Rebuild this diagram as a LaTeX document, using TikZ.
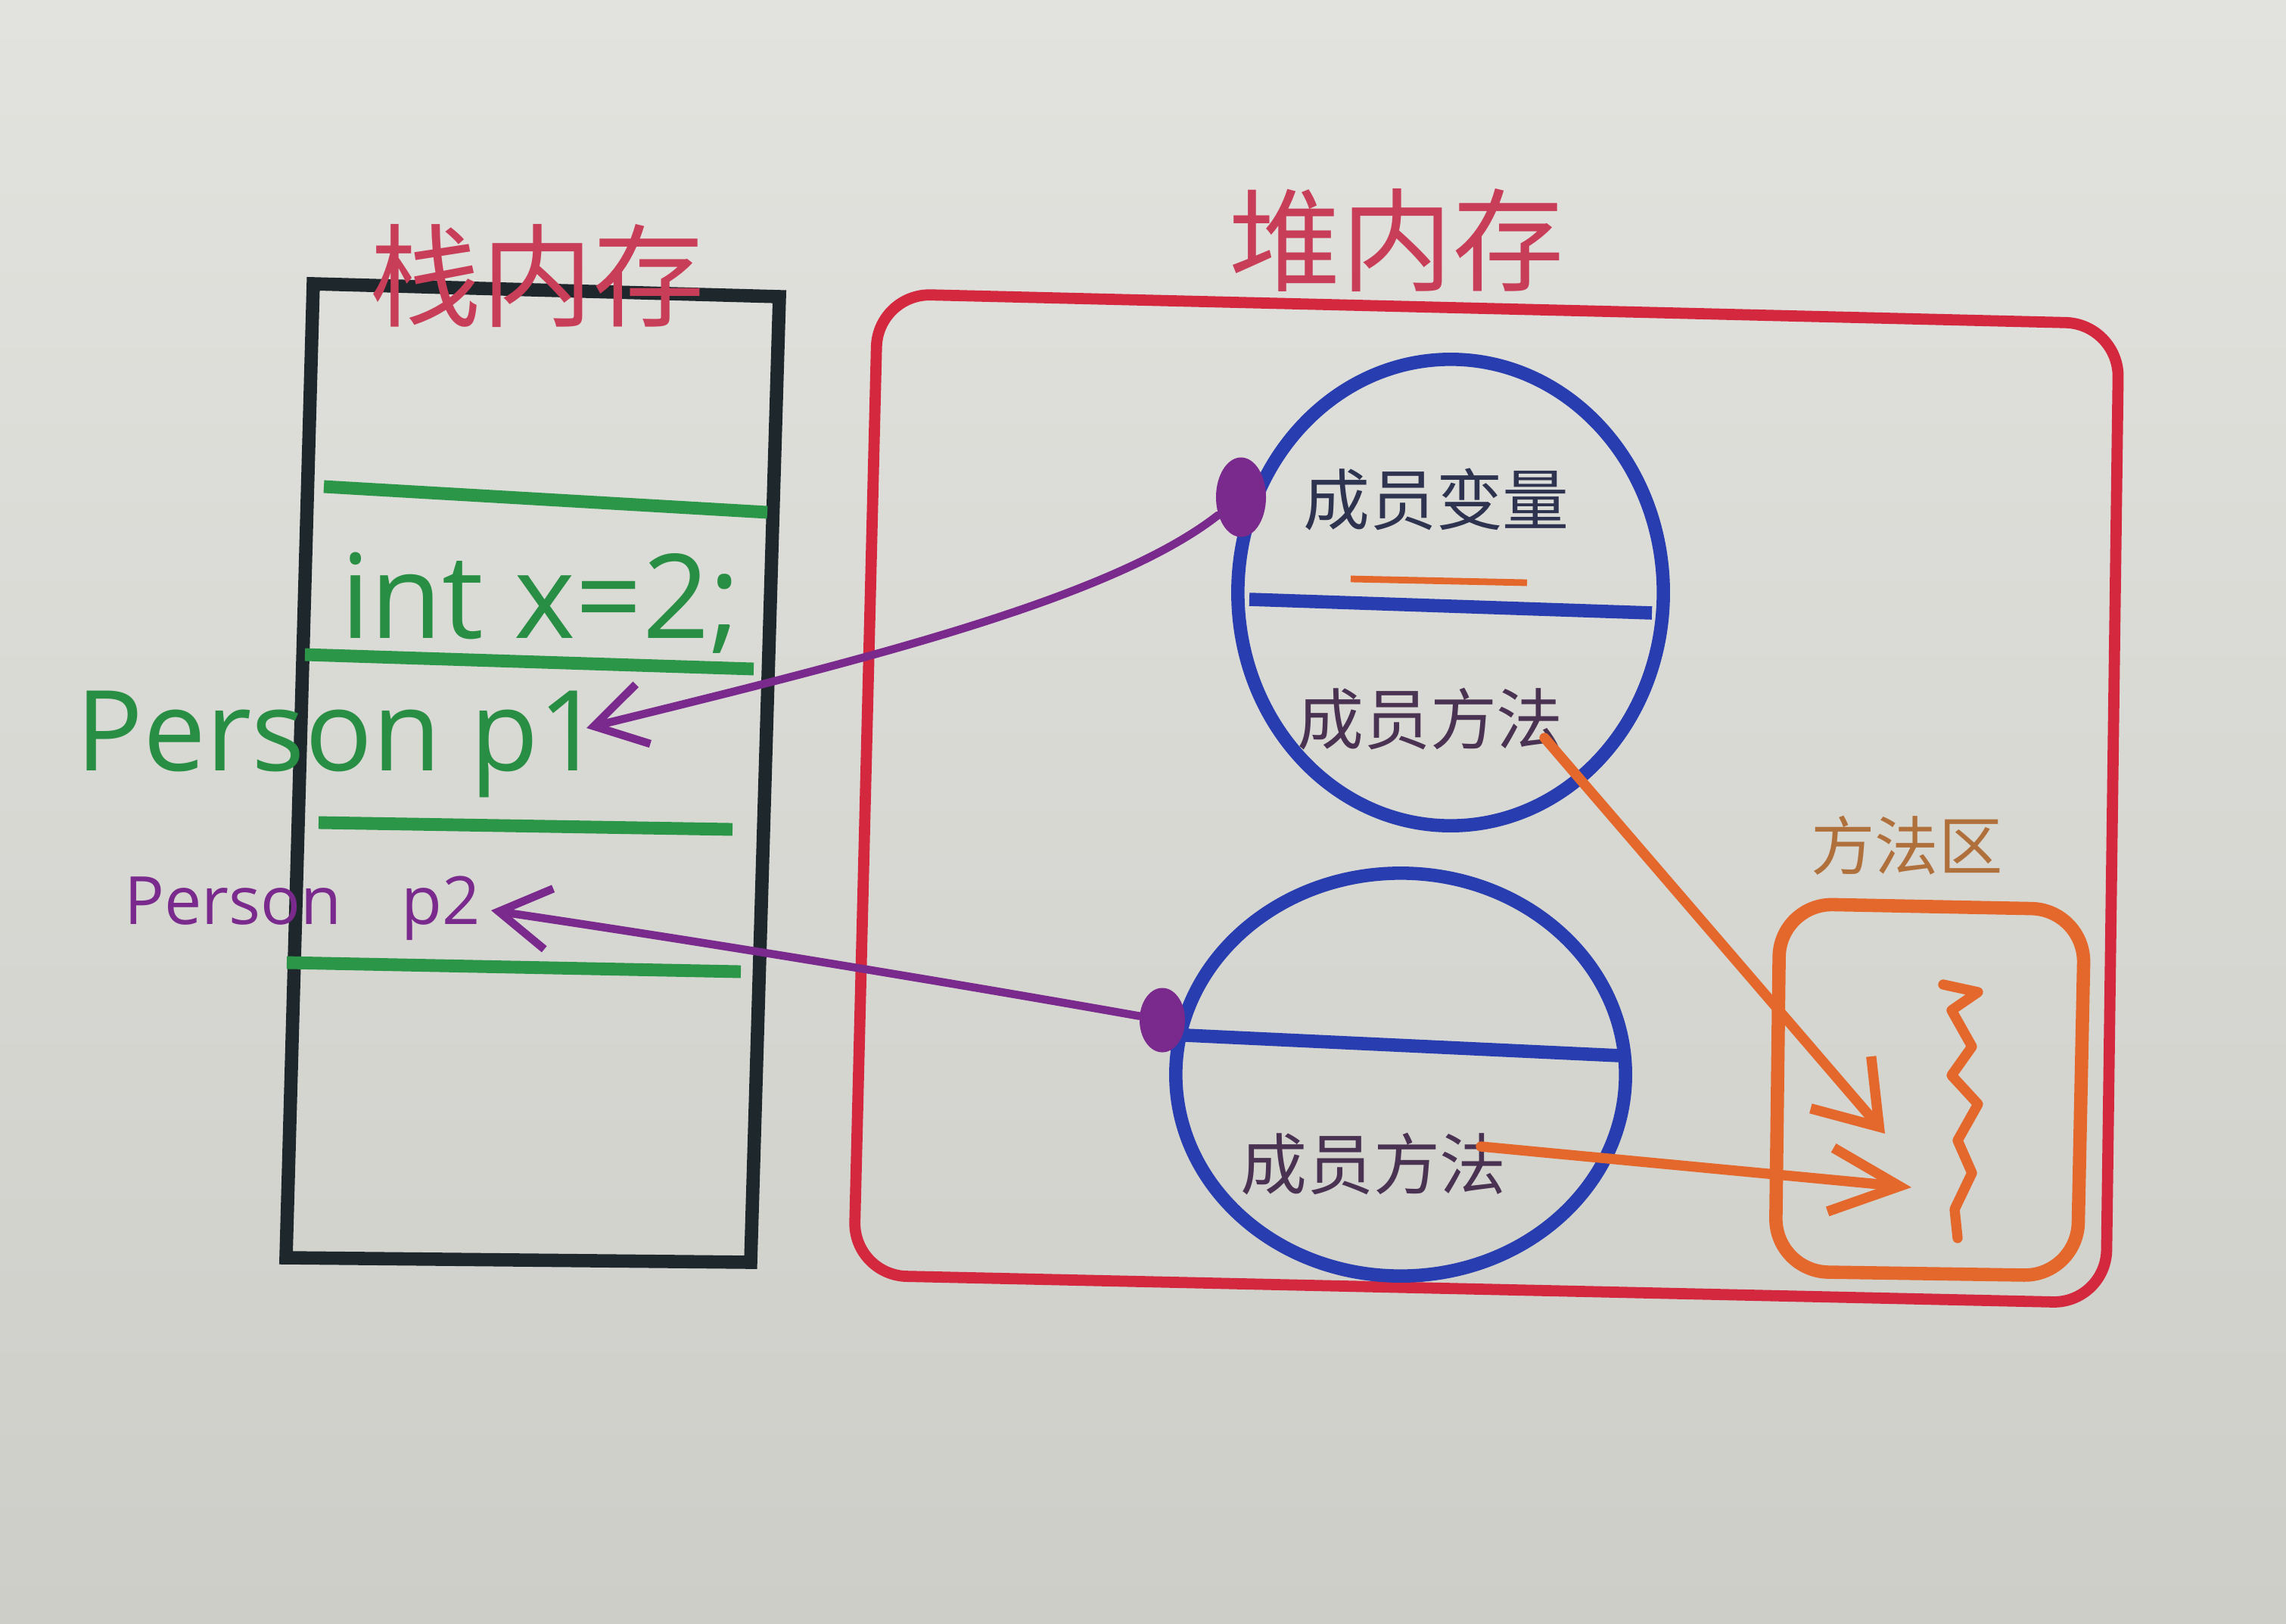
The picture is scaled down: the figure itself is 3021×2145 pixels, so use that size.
\documentclass[tikz,border=0pt]{standalone}
\usepackage{fontspec}
\setmainfont{Open Sans}
\newfontfamily\cjk{Noto Sans CJK SC}
\usetikzlibrary{arrows.meta,shapes.geometric}
\definecolor{bgtop}{RGB}{226,226,222}
\definecolor{bgbot}{RGB}{206,206,201}
\definecolor{stackblk}{RGB}{30,40,44}
\definecolor{grn}{RGB}{44,150,72}
\definecolor{grntxt}{RGB}{40,142,68}
\definecolor{prp}{RGB}{122,42,140}
\definecolor{blu}{RGB}{40,62,176}
\definecolor{heapred}{RGB}{212,40,62}
\definecolor{titlered}{RGB}{200,62,88}
\definecolor{org}{RGB}{228,104,44}
\definecolor{orgtxt}{RGB}{176,112,60}
\definecolor{navytxt}{RGB}{46,52,80}
\definecolor{mtxt}{RGB}{74,50,82}
\begin{document}
\begin{tikzpicture}[x=0.01cm,y=-0.01cm,
  stackbox/.style={draw=stackblk,line width=5pt,line join=miter},
  grnline/.style={draw=grn,line width=4.8pt},
  heapbox/.style={draw=heapred,line width=4.2pt,rounded corners=20pt},
  methbox/.style={draw=org,line width=5pt,rounded corners=20pt},
  objcirc/.style={draw=blu,ellipse,line width=5pt,inner sep=0pt},
  bluline/.style={draw=blu,line width=5pt},
  blob/.style={ellipse,fill=prp,inner sep=0pt},
  prpline/.style={draw=prp,line width=3pt,line cap=round},
  orgline/.style={draw=org,line width=3.8pt,line cap=round,line join=round},
  titletxt/.style={font=\cjk\fontsize{42}{50}\selectfont,text=titlered,inner sep=0pt},
  cjksmall/.style={font=\cjk\fontsize{25}{30}\selectfont,inner sep=0pt},
  pbarb/.style={-{Straight Barb[length=19pt,width=23pt]}},
]
\shade[top color=bgtop,bottom color=bgbot] (0,0) rectangle (3021,2145);
\useasboundingbox (0,0) rectangle (3021,2145);

% stack
\draw[stackbox] (414,375) -- (1030,392) -- (992,1668) -- (378,1662) -- cycle;
\draw[grnline] (428,643) -- (1014,677);
\draw[grnline] (403,865) -- (996,884);
\draw[grnline] (421,1087) -- (968,1096);
\draw[grnline] (379,1272) -- (979,1284);
\node[titletxt] (stacktitle) at (710,365) {栈内存};
\node[anchor=base west,inner sep=0pt,text=grntxt,font=\fontsize{44}{52}\selectfont] (intx) at (450,843) {int x=2;};
\node[anchor=base west,inner sep=0pt,text=grntxt,font=\fontsize{42}{50}\selectfont] (p1txt) at (100,1018) {Person p1};
\node[anchor=base west,inner sep=0pt,text=prp,font=\fontsize{25}{30}\selectfont] (p2txt) at (164,1221) {Person\hspace{0.9em}p2};
\coordinate (p1tip) at (775,962);
\coordinate (p2tip) at (649,1203);

% heap
\draw[heapbox] (1160,388) -- (2800,428) -- (2783,1722) -- (1128,1685) -- cycle;
\node[titletxt] (heaptitle) at (1846,318) {堆内存};

\node[objcirc,minimum width=5.62cm,minimum height=6.16cm] (obj1) at (1917,783) {};
\draw[bluline] (1651,792) -- (2183,810);
\draw[draw=org,line width=2.5pt] (1785,765) -- (2018,770);
\node[cjksmall,text=navytxt] (var1) at (1898,660) {成员变量};
\node[cjksmall,text=mtxt] (meth1) at (1890,950) {成员方法};

\node[objcirc,minimum width=5.94cm,minimum height=5.32cm] (obj2) at (1851,1420) {};
\draw[bluline] (1567,1368) -- (2141,1395);
\node[cjksmall,text=mtxt] (meth2) at (1815,1538) {成员方法};

% method area
\node[font=\cjk\fontsize{24}{29}\selectfont,text=orgtxt,inner sep=0pt] (matitle) at (2520,1117) {方法区};
\draw[methbox] (2352,1194) -- (2755,1202) -- (2745,1686) -- (2346,1680) -- cycle;
\draw[orgline] (2568,1301) -- (2614,1311) -- (2579,1335) -- (2606,1383) -- (2579,1421) -- (2614,1459) -- (2587,1507) -- (2606,1550) -- (2583,1598) -- (2587,1636);

% blobs and references
\node[blob,minimum width=0.66cm,minimum height=1.05cm] (blob1) at (1640,657) {};
\node[blob,minimum width=0.6cm,minimum height=0.85cm] (blob2) at (1536,1348) {};
\draw[prpline,pbarb] (blob1) .. controls (1470,790) and (1150,870) .. (p1tip);
\draw[prpline,pbarb] (blob2) .. controls (1350,1315) and (1000,1255) .. (p2tip);

% method pointers
\coordinate (ma1) at (2041,975);
\coordinate (tipA) at (2491,1498);
\coordinate (ma2) at (1957,1515);
\coordinate (tipB) at (2526,1569);
\draw[orgline,-{Straight Barb[length=22pt,width=30pt]}] (ma1) -- (tipA);
\draw[orgline,-{Straight Barb[length=26pt,width=24pt]}] (ma2) -- (tipB);
\end{tikzpicture}
\end{document}
